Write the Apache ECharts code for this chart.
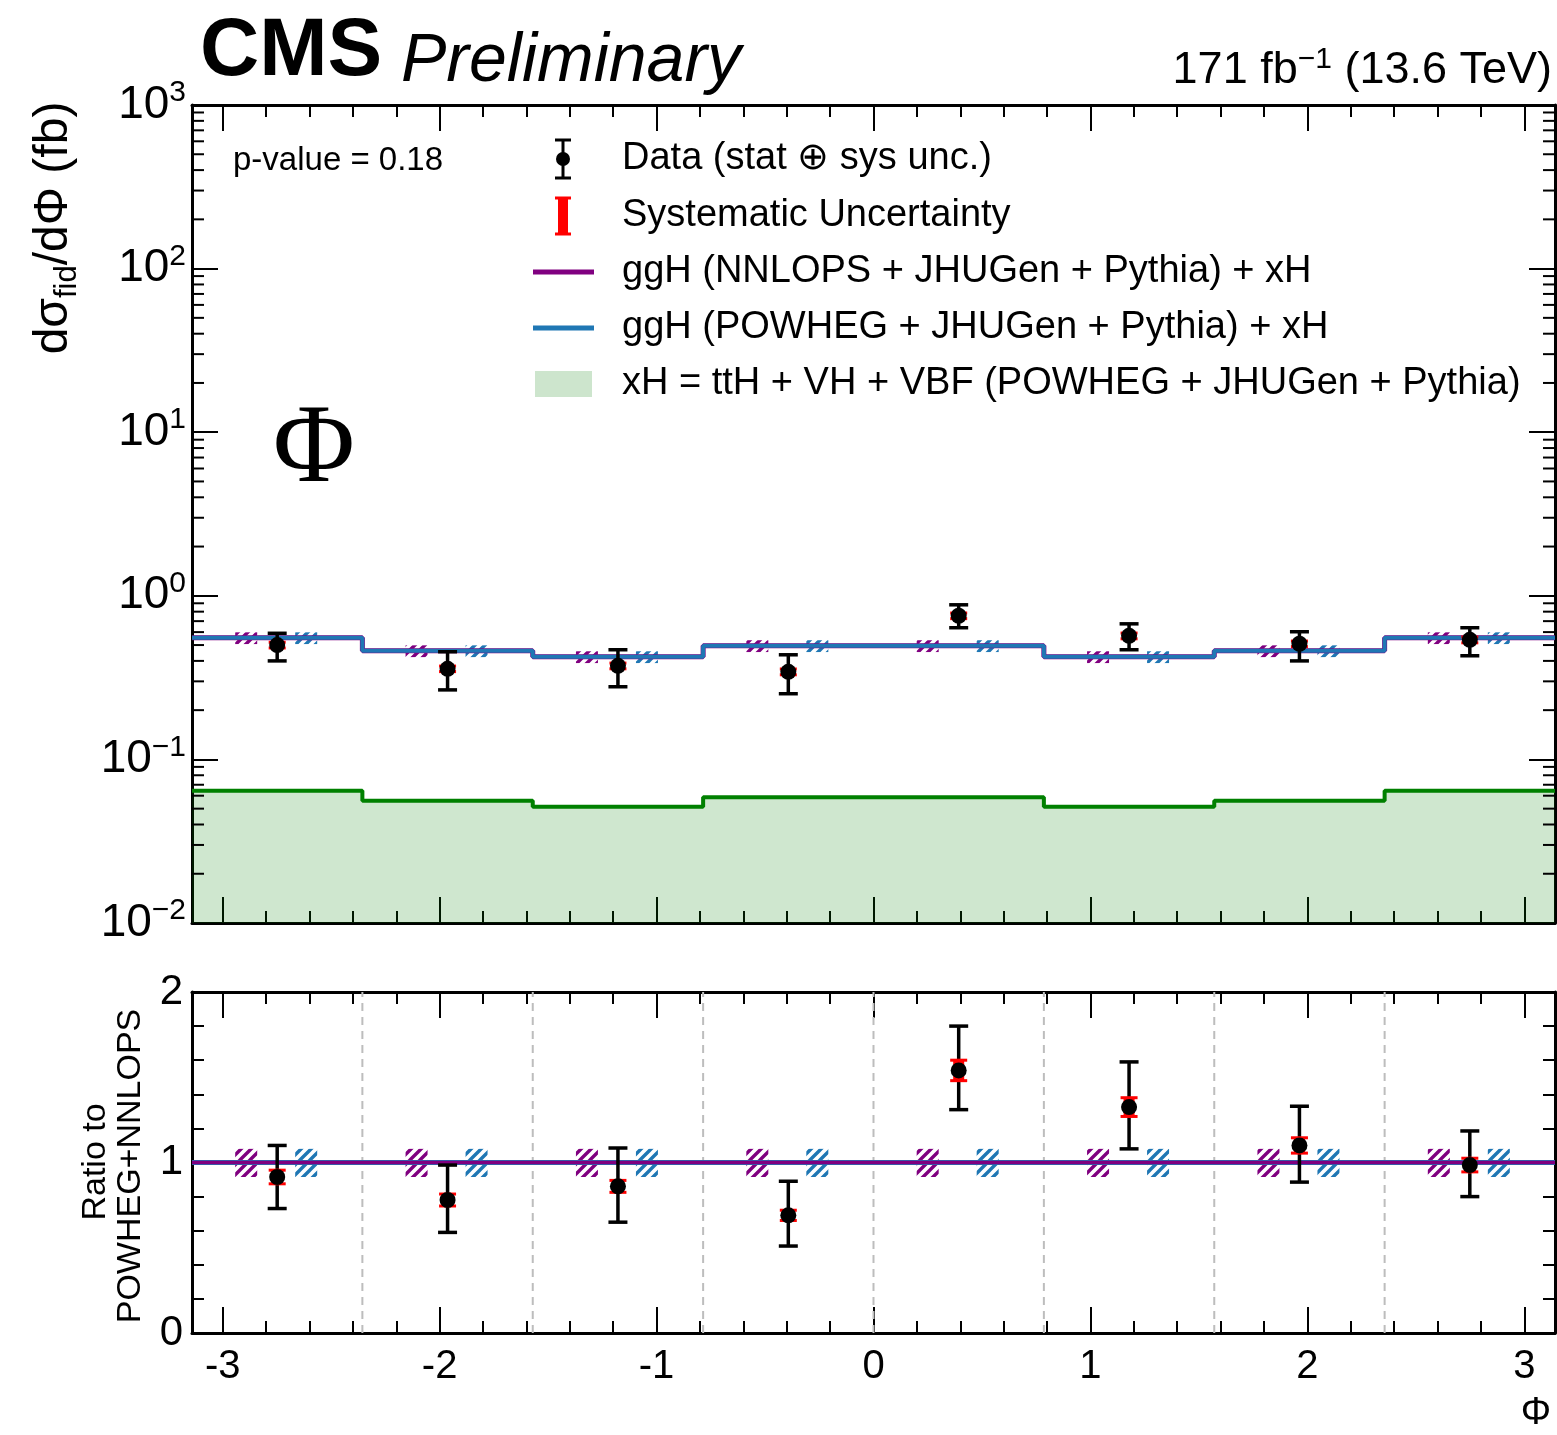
<!DOCTYPE html>
<html>
<head>
<meta charset="utf-8">
<script src="https://cdn.jsdelivr.net/npm/echarts@6/dist/echarts.min.js"></script>
<style>
html,body{margin:0;padding:0;background:#fff;}
#chart{width:1557px;height:1435px;}
</style>
</head>
<body>
<div id="chart"></div>
<script>
// ---------------- data ----------------
const PI = Math.PI;
const binEdges = [-PI, -3*PI/4, -PI/2, -PI/4, 0, PI/4, PI/2, 3*PI/4, PI];
const xTickLabels = ['-3', '-2', '-1', '0', '1', '2', '3'];

// top panel: dsigma/dPhi (fb)
const dataVal   = [0.500, 0.358, 0.373, 0.343, 0.755, 0.569, 0.509, 0.538];
const dataErrLo = [0.400, 0.266, 0.278, 0.252, 0.638, 0.468, 0.400, 0.430];
const dataErrHi = [0.590, 0.455, 0.468, 0.436, 0.881, 0.674, 0.603, 0.638];
const dataSysLo = [0.480, 0.344, 0.358, 0.329, 0.725, 0.546, 0.489, 0.516];
const dataSysHi = [0.520, 0.372, 0.388, 0.357, 0.785, 0.592, 0.529, 0.560];

const nnlopsVal  = [0.554, 0.461, 0.424, 0.495, 0.495, 0.424, 0.461, 0.554];
const powhegVal  = [0.554, 0.461, 0.424, 0.495, 0.495, 0.424, 0.461, 0.554];
const nnlopsBandLo = [0.507, 0.422, 0.388, 0.453, 0.453, 0.388, 0.422, 0.507];
const nnlopsBandHi = [0.598, 0.498, 0.458, 0.535, 0.535, 0.458, 0.498, 0.598];
const powhegBandLo = [0.507, 0.422, 0.388, 0.453, 0.453, 0.388, 0.422, 0.507];
const powhegBandHi = [0.598, 0.498, 0.458, 0.535, 0.535, 0.458, 0.498, 0.598];
const xHVal = [0.0643, 0.0558, 0.0513, 0.0586, 0.0588, 0.0513, 0.0558, 0.0643];

// ratio panel
const ratioVal   = [0.915, 0.780, 0.860, 0.690, 1.540, 1.325, 1.100, 0.985];
const ratioErrLo = [0.730, 0.590, 0.650, 0.510, 1.310, 1.080, 0.885, 0.800];
const ratioErrHi = [1.100, 0.985, 1.085, 0.890, 1.800, 1.590, 1.330, 1.185];
const ratioSysLo = [0.875, 0.745, 0.825, 0.660, 1.480, 1.270, 1.055, 0.945];
const ratioSysHi = [0.955, 0.815, 0.895, 0.720, 1.600, 1.380, 1.145, 1.025];
const ratioNnlops = [1, 1, 1, 1, 1, 1, 1, 1];
const ratioPowheg = [1, 1, 1, 1, 1, 1, 1, 1];
const ratioBandLo = [0.915, 0.915, 0.915, 0.915, 0.915, 0.915, 0.915, 0.915];
const ratioBandHi = [1.080, 1.080, 1.080, 1.080, 1.080, 1.080, 1.080, 1.080];

// ---------------- helpers ----------------
const FF = '"Liberation Sans", Arial, Helvetica, sans-serif';
const binCenters = binEdges.slice(0, 8).map((e, i) => (e + binEdges[i + 1]) / 2);
function stepData(vals) {
  return binEdges.slice(0, 8).map((e, i) => [e, vals[i]]).concat([[binEdges[8], vals[7]]]);
}
function makeHatch(color) {
  const c = document.createElement('canvas');
  c.width = 10; c.height = 10;
  const g = c.getContext('2d');
  g.strokeStyle = color; g.lineWidth = 3.4;
  g.beginPath();
  g.moveTo(-1, 11); g.lineTo(11, -1);
  g.moveTo(-6, 6); g.lineTo(6, -6);
  g.moveTo(4, 16); g.lineTo(16, 4);
  g.stroke();
  return c;
}
const hatchPurple = makeHatch('#800080');
const hatchBlue = makeHatch('#1f77b4');

function bandSeries(xi, yi, lo, hi, offsetPx, hatch) {
  return {
    type: 'custom', xAxisIndex: xi, yAxisIndex: yi, silent: true,
    data: binCenters.map((c, i) => [c, lo[i], hi[i]]),
    renderItem: function (params, api) {
      const a = api.coord([api.value(0), api.value(2)]);
      const b = api.coord([api.value(0), api.value(1)]);
      const w = 22;
      return {
        type: 'rect',
        shape: { x: a[0] + offsetPx - w / 2, y: a[1], width: w, height: b[1] - a[1] },
        style: { fill: { image: hatch, repeat: 'repeat' }, stroke: null }
      };
    }
  };
}
function errSeries(xi, yi, val, lo, hi, slo, shi) {
  return {
    type: 'custom', xAxisIndex: xi, yAxisIndex: yi, silent: true, z: 10,
    data: binCenters.map((c, i) => [c, val[i], lo[i], hi[i], slo[i], shi[i]]),
    renderItem: function (params, api) {
      const x = api.value(0);
      const pv = api.coord([x, api.value(1)]);
      const plo = api.coord([x, api.value(2)]);
      const phi = api.coord([x, api.value(3)]);
      const psl = api.coord([x, api.value(4)]);
      const psh = api.coord([x, api.value(5)]);
      const cx = pv[0];
      const blk = { stroke: '#000', lineWidth: 3.5 };
      const red = { stroke: '#ff0000', lineWidth: 3 };
      return {
        type: 'group',
        children: [
          { type: 'line', shape: { x1: cx, y1: plo[1], x2: cx, y2: phi[1] }, style: blk },
          { type: 'line', shape: { x1: cx - 9.5, y1: plo[1], x2: cx + 9.5, y2: plo[1] }, style: blk },
          { type: 'line', shape: { x1: cx - 9.5, y1: phi[1], x2: cx + 9.5, y2: phi[1] }, style: blk },
          { type: 'rect', shape: { x: cx - 5.5, y: psh[1], width: 11, height: Math.max(psl[1] - psh[1], 1) }, style: { fill: '#ff0000' } },
          { type: 'line', shape: { x1: cx - 8.5, y1: psl[1], x2: cx + 8.5, y2: psl[1] }, style: red },
          { type: 'line', shape: { x1: cx - 8.5, y1: psh[1], x2: cx + 8.5, y2: psh[1] }, style: red },
          { type: 'circle', shape: { cx: cx, cy: pv[1], r: 8 }, style: { fill: '#000' } }
        ]
      };
    }
  };
}
function stepLine(xi, yi, vals, color, width, area) {
  const s = {
    type: 'line', xAxisIndex: xi, yAxisIndex: yi, step: 'end', silent: true,
    symbol: 'none', data: stepData(vals),
    lineStyle: { color: color, width: width }, itemStyle: { color: color }
  };
  if (area) s.areaStyle = { origin: 'start', color: 'rgba(0,128,0,0.19)', opacity: 1 };
  return s;
}
// log minor ticks (2..9 per decade)
const logMinor = [];
for (let e = -2; e < 3; e++) for (let k = 2; k <= 9; k++) logMinor.push(k * Math.pow(10, e));

function xAxisBase(gi, pos, showLabels) {
  return {
    type: 'value', gridIndex: gi, position: pos, min: -PI, max: PI, splitNumber: 6,
    axisLine: { show: true, onZero: false, lineStyle: { color: '#000', width: 3 } },
    axisTick: { show: true, inside: true, length: 26, lineStyle: { color: '#000', width: 2 } },
    minorTick: { show: true, splitNumber: 5, length: 12, lineStyle: { color: '#000', width: 2 } },
    splitLine: { show: false }, minorSplitLine: { show: false },
    axisLabel: showLabels ? {
      show: true, showMinLabel: false, showMaxLabel: false, margin: 14,
      fontSize: 40, color: '#000', fontFamily: FF,
      formatter: function (v) { const i = Math.round(v) + 3; return xTickLabels[i] !== undefined ? xTickLabels[i] : ''; }
    } : { show: false }
  };
}
const supRich = {
  b: { fontSize: 46, fontFamily: FF, color: '#000', lineHeight: 46, verticalAlign: 'bottom' },
  s: { fontSize: 30, fontFamily: FF, color: '#000', lineHeight: 30, verticalAlign: 'bottom', padding: [0, 0, 20, 0] }
};
function logY(pos, showLabels) {
  return {
    type: 'log', logBase: 10, gridIndex: 0, position: pos, min: 0.01, max: 1000, splitNumber: 5,
    axisLine: { show: true, onZero: false, lineStyle: { color: '#000', width: 3 } },
    axisTick: { show: true, inside: true, length: 26, lineStyle: { color: '#000', width: 2 } },
    splitLine: { show: false },
    axisLabel: showLabels ? {
      show: true, margin: 6, rich: supRich,
      formatter: function (v) {
        const e = Math.round(Math.log10(v));
        return '{b|10}{s|' + (e < 0 ? '\u2212' + (-e) : e) + '}';
      }
    } : { show: false }
  };
}
function ratioY(pos, showLabels) {
  return {
    type: 'value', gridIndex: 1, position: pos, min: 0, max: 2, interval: 1,
    axisLine: { show: true, onZero: false, lineStyle: { color: '#000', width: 3 } },
    axisTick: { show: true, inside: true, length: 26, lineStyle: { color: '#000', width: 2 } },
    minorTick: { show: true, splitNumber: 5, length: 12, lineStyle: { color: '#000', width: 2 } },
    splitLine: { show: false }, minorSplitLine: { show: false },
    axisLabel: showLabels ? { show: true, margin: 9, fontSize: 42, color: '#000', fontFamily: FF } : { show: false }
  };
}

// ---------------- legend / text graphics ----------------
const legX = 563, legTextX = 622;
const legRows = [159, 216, 272, 328, 384];
const legTexts = [
  'Data (stat \u2295 sys unc.)',
  'Systematic Uncertainty',
  'ggH (NNLOPS + JHUGen + Pythia) + xH',
  'ggH (POWHEG + JHUGen + Pythia) + xH',
  'xH = ttH + VH + VBF (POWHEG + JHUGen + Pythia)'
];
function txt(x, y, text, font, align, extra) {
  return {
    type: 'text', x: x, y: y, silent: true,
    style: Object.assign({ text: text, font: font, fill: '#000', align: align, textAlign: align, verticalAlign: 'middle', textVerticalAlign: 'middle' }, extra || {})
  };
}
const graphics = [];
graphics.push(txt(200, 52, 'CMS', 'bold 82px ' + FF, 'left'));
graphics.push(txt(401, 62, 'Preliminary', 'italic 68px ' + FF, 'left'));
graphics.push({
  type: 'text', x: 1552, y: 70, silent: true,
  style: {
    text: '{n|171 fb}{s|\u22121}{n| (13.6 TeV)}', align: 'right', textAlign: 'right', verticalAlign: 'middle', textVerticalAlign: 'middle',
    rich: {
      n: { fontSize: 45, fontFamily: FF, color: '#000', lineHeight: 46, verticalAlign: 'bottom' },
      s: { fontSize: 30, fontFamily: FF, color: '#000', lineHeight: 30, verticalAlign: 'bottom', padding: [0, 0, 18, 0] }
    }
  }
});
graphics.push(txt(233, 161, 'p-value = 0.18', '33px ' + FF, 'left'));
graphics.push(txt(314, 452, '\u03A6', '112px "Liberation Serif", "DejaVu Serif", serif', 'center'));
// y titles
graphics.push({
  type: 'text', x: 55, y: 228, rotation: PI / 2, silent: true,
  style: {
    text: '{a|d\u03C3}{sub|fid}{a|/d\u03A6 (fb)}', align: 'center', textAlign: 'center', verticalAlign: 'middle', textVerticalAlign: 'middle',
    rich: {
      a: { fontSize: 48, fontFamily: FF, color: '#000', lineHeight: 50, verticalAlign: 'top' },
      sub: { fontSize: 31, fontFamily: FF, color: '#000', lineHeight: 31, verticalAlign: 'top', padding: [22, 0, 0, 0] }
    }
  }
});
const rt1 = txt(96, 1162, 'Ratio to', '34px ' + FF, 'center'); rt1.rotation = PI / 2; graphics.push(rt1);
const rt2 = txt(131, 1166, 'POWHEG+NNLOPS', '34px ' + FF, 'center'); rt2.rotation = PI / 2; graphics.push(rt2);
graphics.push(txt(1536, 1414, '\u03A6', '38px ' + FF, 'center'));
// legend texts
legTexts.forEach((t, i) => graphics.push(txt(legTextX, legRows[i], t, '38px ' + FF, 'left')));
// legend symbols
graphics.push({ type: 'line', silent: true, shape: { x1: legX, y1: legRows[0] - 19, x2: legX, y2: legRows[0] + 19 }, style: { stroke: '#000', lineWidth: 3 } });
graphics.push({ type: 'line', silent: true, shape: { x1: legX - 8, y1: legRows[0] - 19, x2: legX + 8, y2: legRows[0] - 19 }, style: { stroke: '#000', lineWidth: 3 } });
graphics.push({ type: 'line', silent: true, shape: { x1: legX - 8, y1: legRows[0] + 19, x2: legX + 8, y2: legRows[0] + 19 }, style: { stroke: '#000', lineWidth: 3 } });
graphics.push({ type: 'circle', silent: true, shape: { cx: legX, cy: legRows[0], r: 7 }, style: { fill: '#000' } });
graphics.push({ type: 'rect', silent: true, shape: { x: legX - 5, y: legRows[1] - 18, width: 10, height: 36 }, style: { fill: '#ff0000' } });
graphics.push({ type: 'line', silent: true, shape: { x1: legX - 8, y1: legRows[1] - 18, x2: legX + 8, y2: legRows[1] - 18 }, style: { stroke: '#ff0000', lineWidth: 3 } });
graphics.push({ type: 'line', silent: true, shape: { x1: legX - 8, y1: legRows[1] + 18, x2: legX + 8, y2: legRows[1] + 18 }, style: { stroke: '#ff0000', lineWidth: 3 } });
graphics.push({ type: 'line', silent: true, shape: { x1: 533, y1: legRows[2], x2: 594, y2: legRows[2] }, style: { stroke: '#800080', lineWidth: 5 } });
graphics.push({ type: 'line', silent: true, shape: { x1: 533, y1: legRows[3], x2: 594, y2: legRows[3] }, style: { stroke: '#1f77b4', lineWidth: 5 } });
graphics.push({ type: 'rect', silent: true, shape: { x: 535, y: legRows[4] - 13, width: 57, height: 26 }, style: { fill: '#cde5cd' } });

// ---------------- chart ----------------
const chart = echarts.init(document.getElementById('chart'), null, { renderer: 'canvas' });
const option = {
  animation: false,
  backgroundColor: '#fff',
  textStyle: { fontFamily: FF },
  grid: [
    { left: 192, right: 2, top: 105, height: 818, containLabel: false },
    { left: 192, right: 2, top: 992, height: 341, containLabel: false }
  ],
  xAxis: [xAxisBase(0, 'bottom', false), xAxisBase(0, 'top', false), xAxisBase(1, 'bottom', true), xAxisBase(1, 'top', false)],
  yAxis: [logY('left', true), logY('right', false), ratioY('left', true), ratioY('right', false)],
  graphic: { elements: graphics },
  series: [
    // top panel
    stepLine(0, 0, xHVal, '#008000', 4, true),
    bandSeries(0, 0, nnlopsBandLo, nnlopsBandHi, -31, hatchPurple),
    bandSeries(0, 0, powhegBandLo, powhegBandHi, 29, hatchBlue),
    stepLine(0, 0, nnlopsVal, '#800080', 5, false),
    stepLine(0, 0, powhegVal, '#1f77b4', 4, false),
    errSeries(0, 0, dataVal, dataErrLo, dataErrHi, dataSysLo, dataSysHi),
    {
      type: 'custom', xAxisIndex: 0, yAxisIndex: 0, silent: true, z: 5, clip: false,
      data: logMinor,
      renderItem: function (params, api) {
        const v = api.value(0);
        const l = api.coord([-PI, v]);
        const r = api.coord([PI, v]);
        const st = { stroke: '#000', lineWidth: 2 };
        return { type: 'group', children: [
          { type: 'line', shape: { x1: l[0], y1: l[1], x2: l[0] + 12, y2: l[1] }, style: st },
          { type: 'line', shape: { x1: r[0] - 12, y1: r[1], x2: r[0], y2: r[1] }, style: st }
        ] };
      },
      encode: { y: 0 }
    },
    // ratio panel
    {
      type: 'custom', xAxisIndex: 2, yAxisIndex: 2, silent: true,
      data: binEdges.slice(1, 8),
      renderItem: function (params, api) {
        const x = api.value(0);
        const a = api.coord([x, 0]);
        const b = api.coord([x, 2]);
        return { type: 'line', shape: { x1: a[0], y1: a[1], x2: b[0], y2: b[1] }, style: { stroke: '#bdbdbd', lineWidth: 2, lineDash: [8, 6] } };
      },
      encode: { x: 0 }
    },
    bandSeries(2, 2, ratioBandLo, ratioBandHi, -31, hatchPurple),
    bandSeries(2, 2, ratioBandLo, ratioBandHi, 29, hatchBlue),
    stepLine(2, 2, ratioPowheg, '#1f77b4', 5, false),
    stepLine(2, 2, ratioNnlops, '#800080', 3.5, false),
    errSeries(2, 2, ratioVal, ratioErrLo, ratioErrHi, ratioSysLo, ratioSysHi)
  ]
};
chart.setOption(option);
</script>
</body>
</html>
